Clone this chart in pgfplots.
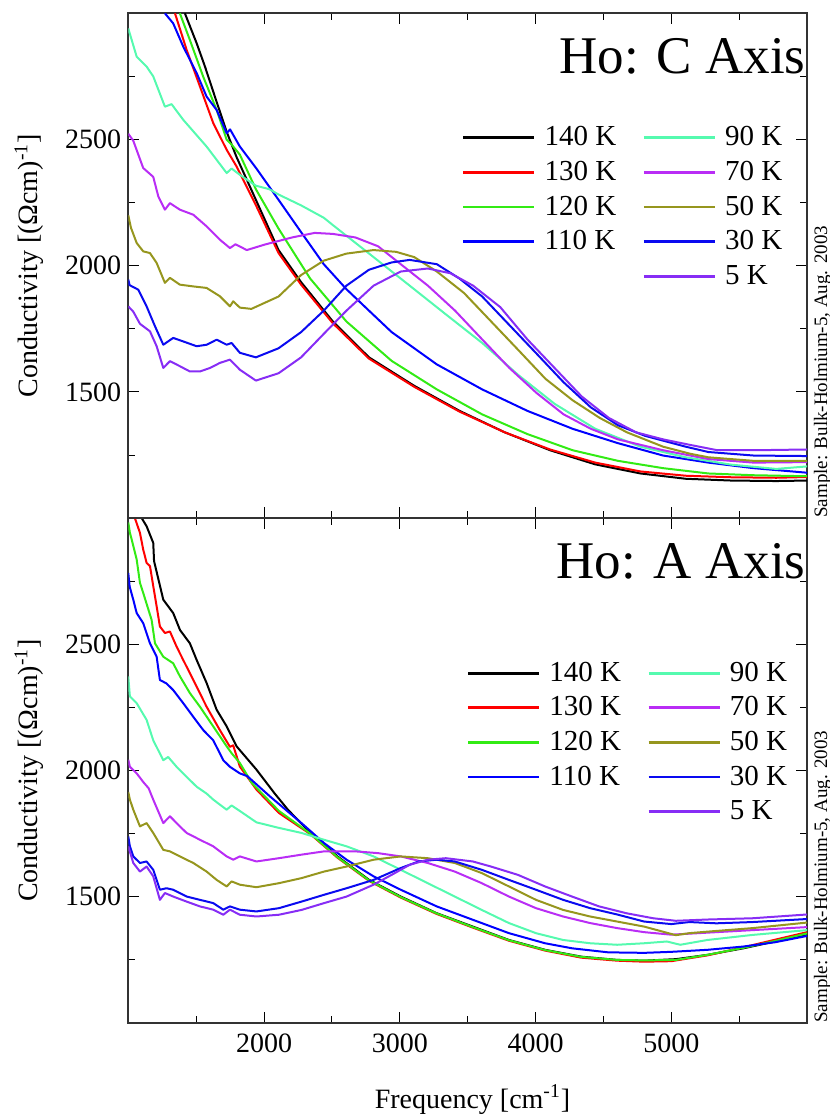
\documentclass[border=0pt]{standalone}
\usepackage{fontspec}
\setmainfont{Liberation Serif}
\usepackage{pgfplots}
\pgfplotsset{compat=1.18}

\definecolor{c140}{RGB}{0,0,0}
\definecolor{c130}{RGB}{255,0,0}
\definecolor{c120}{RGB}{50,235,20}
\definecolor{c110}{RGB}{0,0,255}
\definecolor{c90}{RGB}{85,250,175}
\definecolor{c70}{RGB}{185,45,245}
\definecolor{c50}{RGB}{150,150,30}
\definecolor{c30}{RGB}{10,10,240}
\definecolor{c5}{RGB}{135,45,245}

\pgfplotsset{
  holmium/.style={
    scale only axis, width=339.5pt, height=252.5pt,
    xmin=1000, xmax=6000, ymin=1000, ymax=3000,
    xtick={2000,3000,4000,5000}, minor xtick={1500,2500,3500,4500,5500},
    ytick={1500,2000,2500}, minor ytick={1250,1750,2250,2750},
    tick align=inside, tick pos=both,
    major tick length=5.5pt, minor tick length=3.5pt,
    tick style={black, line width=0.5pt},
    axis line style={line width=0.8pt, black!80},
    scaled ticks=false,
    /pgf/number format/assume math mode=true,
    /pgf/number format/1000 sep={},
    tick label style={font=\fontsize{14}{16}\selectfont},
    xticklabel style={yshift=-2pt},
    label style={font=\fontsize{14}{16}\selectfont},
    ylabel={Conductivity [(Ωcm)\textsuperscript{-1}]},
    ylabel style={at={(axis description cs:-0.146,0.5)}, anchor=center},
    clip mode=individual,
    every axis plot/.append style={line width=1pt, line join=round},
    legend columns=2,
    legend cell align=left,
    legend image code/.code={\draw[#1, line width=1.4pt] (0pt,0pt) -- (35.5pt,0pt);},
    legend style={draw=none, fill=none, inner sep=0pt,
      font=\fontsize{14.5}{16}\selectfont,
      nodes={inner sep=0pt, text height=11pt, text depth=3pt},
      /tikz/every odd column/.append style={column sep=4.5pt},
      /tikz/every even column/.append style={column sep=13pt},
      row sep=3.3pt, anchor=north west},
  },
}

\newcommand{\hoslegend}{%
  \addlegendimage{c140}\addlegendentry{140 K}
  \addlegendimage{c90}\addlegendentry{90 K}
  \addlegendimage{c130}\addlegendentry{130 K}
  \addlegendimage{c70}\addlegendentry{70 K}
  \addlegendimage{c120}\addlegendentry{120 K}
  \addlegendimage{c50}\addlegendentry{50 K}
  \addlegendimage{c110}\addlegendentry{110 K}
  \addlegendimage{c30}\addlegendentry{30 K}
  \addlegendimage{empty legend}\addlegendentry{}
  \addlegendimage{c5}\addlegendentry{5 K}}

\begin{document}
\begin{tikzpicture}

% A axis (bottom)
\begin{axis}[holmium,
  at={(0,0)}, anchor=south west,
  xlabel={Frequency [cm\textsuperscript{-1}]},
  xlabel style={at={(axis description cs:0.5,0)}, anchor=base, yshift=-42.5pt, xshift=2.4pt},
  legend style={at={(rel axis cs:0.498,0.7212)}},
]
\addplot[c140, forget plot] coordinates {
 (1099,3000) (1135,2968) (1184,2902) (1190,2830) (1258,2677) (1331,2624) (1381,2557)
 (1454,2504) (1504,2438) (1577,2347) (1651,2241) (1725,2175) (1798,2096) (1944,2004)
 (2076,1911) (2176,1845) (2342,1753) (2541,1660) (2774,1567) (3007,1501) (3272,1435)
 (3538,1382) (3804,1329) (4070,1290) (4336,1263) (4601,1250) (4800,1247) (5033,1253)
 (5266,1270) (5531,1296) (5764,1323) (6000,1349)};
\addplot[c130, forget plot] coordinates {
 (1049,3000) (1086,2942) (1110,2876) (1135,2823) (1160,2810) (1184,2731) (1209,2651)
 (1233,2571) (1270,2545) (1307,2551) (1356,2491) (1405,2438) (1479,2359) (1577,2253)
 (1675,2160) (1749,2094) (1773,2100) (1822,2016) (1944,1925) (2110,1832) (2342,1748)
 (2541,1655) (2774,1563) (3007,1497) (3272,1432) (3538,1378) (3804,1326) (4070,1287)
 (4336,1259) (4601,1247) (4800,1243) (5000,1245) (5266,1268) (5531,1300) (5764,1330)
 (6000,1360)};
\addplot[c120, forget plot] coordinates {
 (1000,2983) (1012,2942) (1025,2916) (1062,2836) (1086,2744) (1110,2704) (1172,2597)
 (1197,2504) (1258,2451) (1331,2425) (1381,2373) (1454,2307) (1528,2253) (1626,2175)
 (1725,2096) (1761,2069) (1822,2030) (1910,1951) (2110,1840) (2342,1750) (2541,1657)
 (2774,1565) (3007,1499) (3272,1434) (3538,1380) (3804,1328) (4070,1289) (4336,1262)
 (4601,1250) (4800,1248) (5033,1250) (5266,1270) (5531,1298) (5764,1325) (6000,1355)};
\addplot[c110, forget plot] coordinates {
 (1000,2783) (1010,2730) (1025,2700) (1037,2677) (1062,2624) (1110,2584) (1160,2504)
 (1209,2451) (1233,2359) (1282,2345) (1331,2319) (1405,2267) (1479,2213) (1553,2160)
 (1626,2120) (1700,2041) (1749,2015) (1822,1989) (1877,1978) (2043,1898) (2276,1792)
 (2442,1713) (2608,1647) (2807,1581) (3007,1528) (3272,1462) (3538,1409) (3804,1356)
 (4070,1316) (4269,1296) (4535,1280) (4800,1278) (5000,1282) (5266,1290) (5531,1303)
 (5764,1320) (6000,1345)};
\addplot[c90, forget plot] coordinates {
 (1000,2373) (1012,2294) (1062,2267) (1135,2201) (1184,2120) (1258,2041) (1294,2054)
 (1356,2015) (1430,1975) (1504,1936) (1577,1909) (1626,1885) (1725,1845) (1761,1862)
 (1822,1840) (1944,1795) (2110,1773) (2276,1753) (2442,1726) (2608,1700) (2807,1660)
 (3007,1607) (3206,1554) (3405,1501) (3604,1448) (3804,1396) (4003,1356) (4203,1329)
 (4402,1316) (4601,1310) (4800,1316) (4967,1323) (5066,1310) (5266,1329) (5598,1349)
 (6000,1368)};
\addplot[c70, forget plot] coordinates {
 (1000,2043) (1012,2015) (1062,1989) (1110,1955) (1150,1930) (1184,1885) (1258,1792)
 (1307,1819) (1380,1779) (1430,1753) (1528,1726) (1626,1700) (1725,1660) (1773,1647)
 (1822,1660) (1944,1640) (2110,1653) (2276,1667) (2442,1680) (2674,1680) (2840,1673)
 (3007,1660) (3206,1634) (3405,1600) (3604,1554) (3804,1501) (4003,1455) (4203,1422)
 (4402,1396) (4601,1376) (4800,1360) (5000,1350) (5266,1358) (5598,1368) (6000,1380)};
\addplot[c50, forget plot] coordinates {
 (1000,1915) (1012,1885) (1037,1845) (1086,1779) (1135,1792) (1184,1753) (1258,1686)
 (1307,1680) (1380,1660) (1479,1634) (1577,1600) (1651,1567) (1725,1541) (1761,1561)
 (1822,1548) (1944,1538) (2110,1554) (2276,1574) (2442,1600) (2608,1620) (2807,1647)
 (3007,1660) (3206,1653) (3405,1634) (3604,1594) (3804,1541) (4003,1488) (4203,1448)
 (4402,1422) (4601,1402) (4800,1382) (5033,1348) (5133,1356) (5266,1362) (5598,1376)
 (6000,1398)};
\addplot[c30, forget plot] coordinates {
 (1000,1739) (1012,1700) (1037,1660) (1086,1634) (1135,1640) (1184,1607) (1233,1528)
 (1282,1534) (1331,1528) (1430,1501) (1528,1488) (1626,1475) (1700,1449) (1749,1462)
 (1822,1449) (1944,1442) (2110,1455) (2276,1481) (2442,1508) (2608,1534) (2807,1567)
 (3007,1614) (3139,1640) (3272,1647) (3405,1640) (3604,1607) (3804,1567) (4003,1528)
 (4203,1488) (4402,1455) (4601,1430) (4800,1402) (5000,1392) (5133,1400) (5332,1395)
 (5598,1400) (6000,1412)};
\addplot[c5, forget plot] coordinates {
 (1000,1700) (1037,1634) (1086,1600) (1135,1620) (1184,1581) (1233,1488) (1270,1515)
 (1331,1501) (1430,1481) (1528,1462) (1626,1449) (1700,1429) (1749,1449) (1822,1429)
 (1944,1422) (2110,1429) (2276,1448) (2442,1475) (2608,1501) (2807,1548) (2940,1587)
 (3073,1627) (3206,1647) (3339,1653) (3538,1640) (3671,1620) (3870,1587) (4070,1541)
 (4269,1501) (4468,1462) (4668,1435) (4867,1415) (5033,1405) (5266,1410) (5598,1415)
 (6000,1430)};
\hoslegend
\node[anchor=base east, inner sep=0pt, font=\fontsize{26.5}{30}\selectfont,
  xshift=-0.6pt, yshift=-30pt] at (rel axis cs:1,1) {Ho: A Axis};
\node[xshift=10pt, rotate=90, anchor=base west, inner sep=0pt,
  font=\fontsize{9.5}{11}\selectfont] at (rel axis cs:1,0) {Sample: Bulk-Holmium-5, Aug. 2003};
\end{axis}

% C axis (top)
\begin{axis}[holmium,
  at={(0,252.5pt)}, anchor=south west,
  xticklabels={},
  legend style={at={(rel axis cs:0.491,0.7818)}},
]
\addplot[c140, forget plot] coordinates {
 (1417,3000) (1504,2881) (1565,2789) (1638,2670) (1725,2530) (1798,2430) (1940,2261)
 (2107,2062) (2273,1935) (2507,1779) (2773,1637) (3107,1524) (3440,1425) (3773,1340)
 (4107,1269) (4440,1213) (4773,1177) (5107,1156) (5440,1149) (5773,1147) (6000,1149)};
\addplot[c130, forget plot] coordinates {
 (1344,3000) (1430,2855) (1528,2710) (1626,2565) (1725,2459) (1798,2393) (1940,2240)
 (2107,2050) (2273,1925) (2507,1772) (2773,1632) (3107,1520) (3440,1422) (3773,1340)
 (4107,1272) (4440,1220) (4773,1185) (5107,1168) (5440,1162) (5773,1160) (6000,1163)};
\addplot[c120, forget plot] coordinates {
 (1380,3000) (1454,2894) (1552,2749) (1651,2617) (1725,2499) (1761,2480) (1822,2440)
 (1940,2303) (2107,2147) (2340,1949) (2607,1779) (2940,1623) (3273,1510) (3607,1411)
 (3940,1333) (4273,1269) (4607,1227) (4940,1198) (5273,1177) (5607,1170) (6000,1166)};
\addplot[c110, forget plot] coordinates {
 (1270,3000) (1331,2960) (1405,2868) (1504,2763) (1577,2670) (1651,2617) (1725,2525)
 (1750,2540) (1822,2472) (1940,2388) (2107,2261) (2273,2133) (2440,2006) (2607,1907)
 (2773,1822) (2940,1737) (3273,1609) (3607,1510) (3940,1425) (4273,1354) (4607,1297)
 (4940,1248) (5273,1220) (5607,1198) (6000,1180)};
\addplot[c90, forget plot] coordinates {
 (1000,2940) (1062,2828) (1135,2789) (1184,2750) (1270,2630) (1319,2640) (1405,2578)
 (1577,2472) (1725,2367) (1761,2385) (1822,2360) (1940,2317) (2040,2303) (2107,2282)
 (2273,2239) (2440,2190) (2507,2161) (2807,2034) (3073,1921) (3340,1807) (3607,1694)
 (3873,1567) (4140,1453) (4440,1354) (4773,1283) (5107,1241) (5440,1212) (5773,1195)
 (6000,1205)};
\addplot[c70, forget plot] coordinates {
 (1000,2523) (1037,2495) (1110,2387) (1184,2352) (1221,2275) (1270,2222) (1307,2248)
 (1380,2222) (1479,2202) (1577,2156) (1675,2103) (1749,2070) (1790,2085) (1873,2062)
 (2007,2084) (2207,2112) (2373,2130) (2507,2126) (2673,2112) (2840,2077) (3007,2006)
 (3207,1921) (3407,1822) (3607,1708) (3807,1595) (4007,1496) (4207,1411) (4407,1354)
 (4607,1312) (4940,1269) (5273,1234) (5607,1220) (6000,1222)};
\addplot[c50, forget plot] coordinates {
 (1000,2200) (1020,2150) (1062,2090) (1110,2057) (1160,2050) (1209,2011) (1270,1932)
 (1307,1952) (1380,1925) (1479,1918) (1577,1912) (1675,1879) (1749,1839) (1773,1859)
 (1822,1834) (1907,1829) (2107,1878) (2273,1963) (2440,2020) (2607,2048) (2807,2062)
 (2973,2055) (3107,2034) (3273,1977) (3473,1892) (3673,1779) (3873,1666) (4073,1552)
 (4273,1467) (4473,1397) (4673,1340) (4940,1283) (5140,1255) (5273,1241) (5607,1227)
 (6000,1227)};
\addplot[c30, forget plot] coordinates {
 (1000,1945) (1010,1923) (1074,1905) (1135,1839) (1197,1760) (1258,1687) (1331,1714)
 (1405,1700) (1504,1681) (1577,1687) (1651,1707) (1725,1687) (1761,1694) (1822,1655)
 (1940,1637) (2107,1673) (2273,1737) (2440,1822) (2607,1921) (2773,1984) (2940,2013)
 (3073,2023) (3273,2006) (3440,1949) (3607,1878) (3807,1765) (4007,1652) (4207,1538)
 (4407,1439) (4607,1368) (4807,1326) (5107,1283) (5273,1262) (5607,1248) (6000,1246)};
\addplot[c5, forget plot] coordinates {
 (1000,1839) (1037,1818) (1086,1770) (1160,1740) (1209,1681) (1258,1595) (1307,1622)
 (1380,1602) (1454,1581) (1528,1581) (1602,1595) (1675,1615) (1749,1628) (1822,1588)
 (1940,1545) (2107,1574) (2273,1637) (2440,1730) (2607,1822) (2807,1921) (3007,1977)
 (3207,1989) (3373,1970) (3540,1921) (3740,1836) (3940,1708) (4140,1595) (4340,1482)
 (4540,1397) (4740,1340) (4940,1312) (5140,1290) (5340,1269) (5607,1269) (6000,1272)};
\hoslegend
\node[anchor=base east, inner sep=0pt, font=\fontsize{26.5}{30}\selectfont,
  xshift=-0.6pt, yshift=-30pt] at (rel axis cs:1,1) {Ho: C Axis};
\node[xshift=10pt, rotate=90, anchor=base west, inner sep=0pt,
  font=\fontsize{9.5}{11}\selectfont] at (rel axis cs:1,0) {Sample: Bulk-Holmium-5, Aug. 2003};
\end{axis}

\pgfresetboundingbox
\path[use as bounding box] (-64.15pt,-47pt) rectangle (350.85pt,511.65pt);
\end{tikzpicture}
\end{document}
